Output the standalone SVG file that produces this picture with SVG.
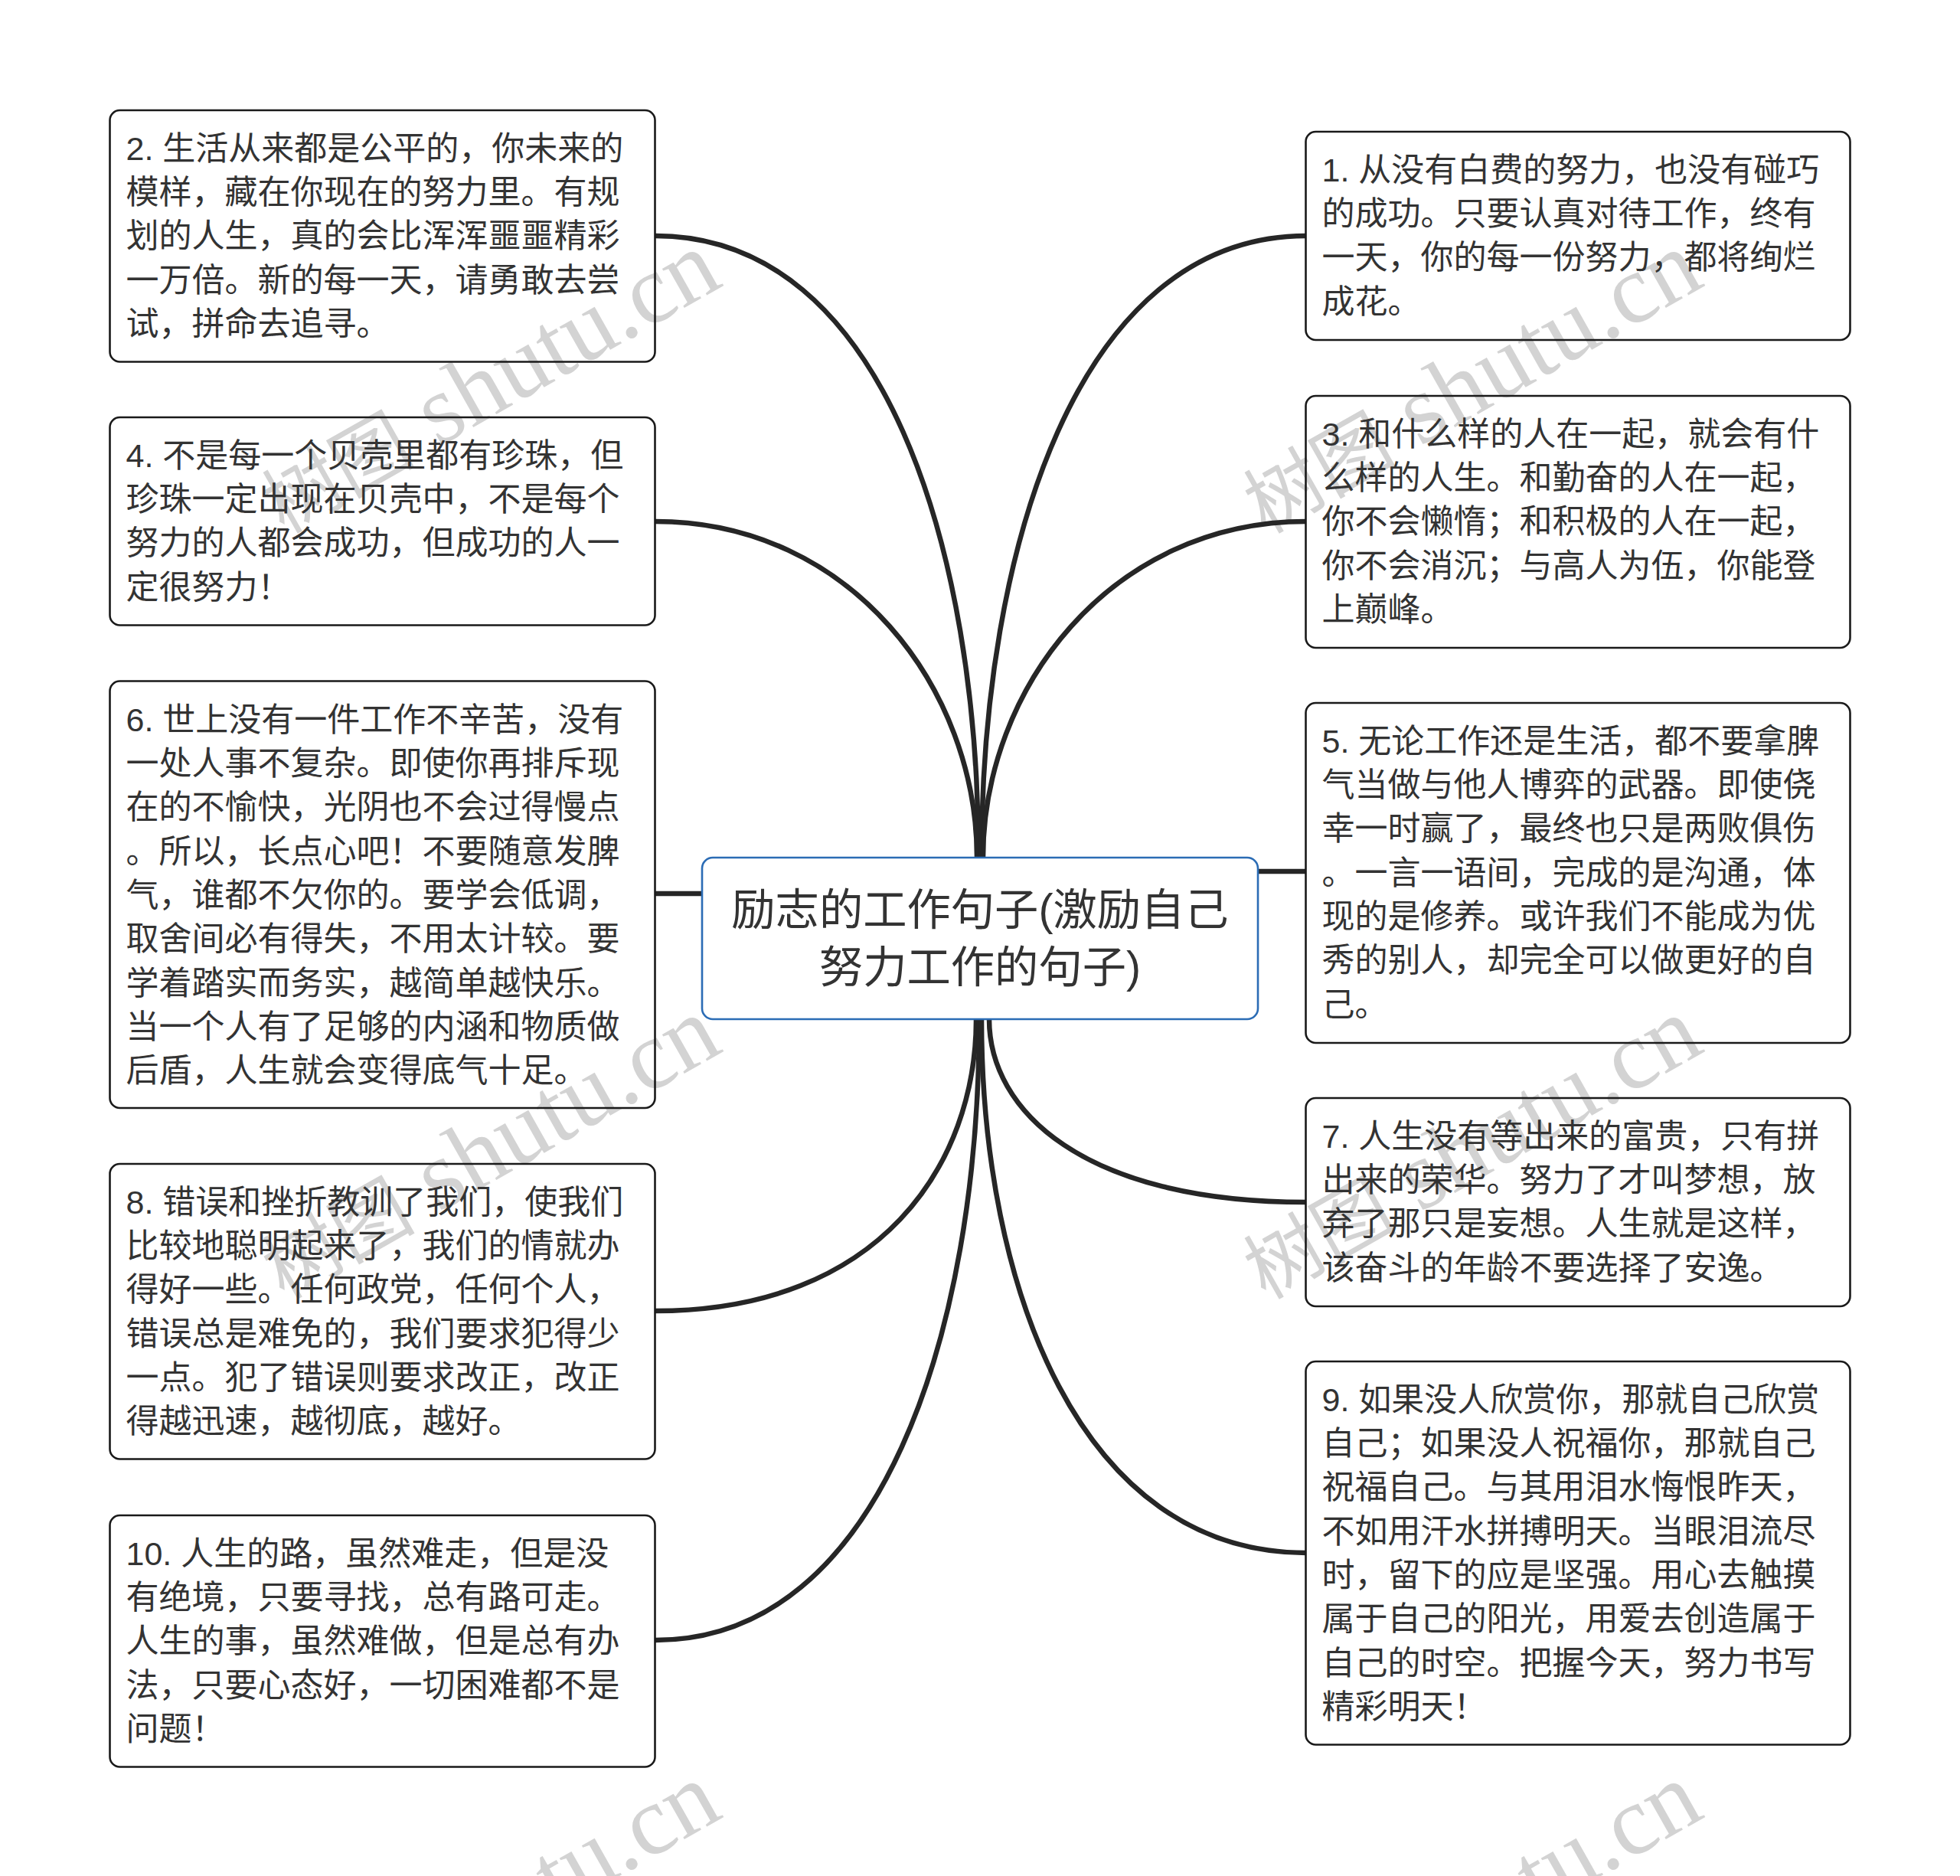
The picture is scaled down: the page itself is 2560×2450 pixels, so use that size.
<svg xmlns="http://www.w3.org/2000/svg" width="2560" height="2450" viewBox="0 0 2560 2450">
<style>
text{font-family:"Liberation Sans","Noto Sans CJK SC",sans-serif;fill:#333}
.t text{font-size:43px}
.wm{font-family:"Liberation Serif","Noto Sans CJK SC",serif;font-size:128px;fill:#d3d3d3;text-anchor:end}
.wm tspan{font-family:"Noto Sans CJK SC",serif;font-size:100px}
.box{fill:none;stroke:#1a1a1a;stroke-width:2.6}
.root{fill:none;stroke:#2b6cb5;stroke-width:2.6}
.c path{fill:none;stroke:#262626;stroke-width:6.5}
</style>
<rect width="2560" height="2450" fill="#fff"/>
<g id="watermarks">
<text class="wm" transform="translate(947 372) rotate(-29.500)"><tspan>树图</tspan> shutu.cn</text>
<text class="wm" transform="translate(2229 372) rotate(-29.500)"><tspan>树图</tspan> shutu.cn</text>
<text class="wm" transform="translate(947 1372) rotate(-29.500)"><tspan>树图</tspan> shutu.cn</text>
<text class="wm" transform="translate(2229 1372) rotate(-29.500)"><tspan>树图</tspan> shutu.cn</text>
<text class="wm" transform="translate(947 2372) rotate(-29.500)"><tspan>树图</tspan> shutu.cn</text>
<text class="wm" transform="translate(2229 2372) rotate(-29.500)"><tspan>树图</tspan> shutu.cn</text>
</g>
<g id="connectors" class="c">
<path d="M856 308C1156 308 1278 720 1278 1120"/>
<path d="M856 681C1112 681 1276 900 1276 1120"/>
<path d="M856 1167H917"/>
<path d="M856 1712C1150 1712 1275 1520 1275 1331"/>
<path d="M856 2142C1150 2142 1279 1740 1279 1331"/>
<path d="M1706 308C1406 308 1282 720 1282 1120"/>
<path d="M1706 681C1450 681 1284 900 1284 1120"/>
<path d="M1643 1138H1706"/>
<path d="M1706 1570C1414 1570 1292 1450 1292 1331"/>
<path d="M1706 2028C1410 2028 1282 1680 1282 1331"/>
</g>
<g id="root"><rect class="root" x="917" y="1120" width="726" height="211" rx="14"/>
<text x="1280" y="1208" font-size="57.300" text-anchor="middle">励志的工作句子(激励自己</text>
<text x="1280" y="1283" font-size="57.300" text-anchor="middle">努力工作的句子)</text></g>
<g id="n2" class="t"><rect class="box" x="143.500" y="144" width="712" height="328.500" rx="13"/>
<text x="164.500" y="208.700">2. 生活从来都是公平的，你未来的</text>
<text x="164.500" y="266">模样，藏在你现在的努力里。有规</text>
<text x="164.500" y="323.300">划的人生，真的会比浑浑噩噩精彩</text>
<text x="164.500" y="380.600">一万倍。新的每一天，请勇敢去尝</text>
<text x="164.500" y="437.900">试，拼命去追寻。</text></g>
<g id="n4" class="t"><rect class="box" x="143.500" y="545" width="712" height="271.500" rx="13"/>
<text x="164.500" y="609.700">4. 不是每一个贝壳里都有珍珠，但</text>
<text x="164.500" y="667">珍珠一定出现在贝壳中，不是每个</text>
<text x="164.500" y="724.300">努力的人都会成功，但成功的人一</text>
<text x="164.500" y="781.600">定很努力！</text></g>
<g id="n6" class="t"><rect class="box" x="143.500" y="889.500" width="712" height="557.500" rx="13"/>
<text x="164.500" y="954.700">6. 世上没有一件工作不辛苦，没有</text>
<text x="164.500" y="1012">一处人事不复杂。即使你再排斥现</text>
<text x="164.500" y="1069.300">在的不愉快，光阴也不会过得慢点</text>
<text x="164.500" y="1126.600">。所以，长点心吧！不要随意发脾</text>
<text x="164.500" y="1183.900">气，谁都不欠你的。要学会低调，</text>
<text x="164.500" y="1241.200">取舍间必有得失，不用太计较。要</text>
<text x="164.500" y="1298.500">学着踏实而务实，越简单越快乐。</text>
<text x="164.500" y="1355.800">当一个人有了足够的内涵和物质做</text>
<text x="164.500" y="1413.100">后盾，人生就会变得底气十足。</text></g>
<g id="n8" class="t"><rect class="box" x="143.500" y="1520" width="712" height="385.500" rx="13"/>
<text x="164.500" y="1584.700">8. 错误和挫折教训了我们，使我们</text>
<text x="164.500" y="1642">比较地聪明起来了，我们的情就办</text>
<text x="164.500" y="1699.300">得好一些。任何政党，任何个人，</text>
<text x="164.500" y="1756.600">错误总是难免的，我们要求犯得少</text>
<text x="164.500" y="1813.900">一点。犯了错误则要求改正，改正</text>
<text x="164.500" y="1871.200">得越迅速，越彻底，越好。</text></g>
<g id="n10" class="t"><rect class="box" x="143.500" y="1979" width="712" height="328.500" rx="13"/>
<text x="164.500" y="2043.700">10. 人生的路，虽然难走，但是没</text>
<text x="164.500" y="2101">有绝境，只要寻找，总有路可走。</text>
<text x="164.500" y="2158.300">人生的事，虽然难做，但是总有办</text>
<text x="164.500" y="2215.600">法，只要心态好，一切困难都不是</text>
<text x="164.500" y="2272.900">问题！</text></g>
<g id="n1" class="t"><rect class="box" x="1705.500" y="172" width="711" height="272" rx="13"/>
<text x="1726.500" y="236.700">1. 从没有白费的努力，也没有碰巧</text>
<text x="1726.500" y="294">的成功。只要认真对待工作，终有</text>
<text x="1726.500" y="351.300">一天，你的每一份努力，都将绚烂</text>
<text x="1726.500" y="408.600">成花。</text></g>
<g id="n3" class="t"><rect class="box" x="1705.500" y="517" width="711" height="329" rx="13"/>
<text x="1726.500" y="581.700">3. 和什么样的人在一起，就会有什</text>
<text x="1726.500" y="639">么样的人生。和勤奋的人在一起，</text>
<text x="1726.500" y="696.300">你不会懒惰；和积极的人在一起，</text>
<text x="1726.500" y="753.600">你不会消沉；与高人为伍，你能登</text>
<text x="1726.500" y="810.900">上巅峰。</text></g>
<g id="n5" class="t"><rect class="box" x="1705.500" y="918" width="711" height="444" rx="13"/>
<text x="1726.500" y="982.700">5. 无论工作还是生活，都不要拿脾</text>
<text x="1726.500" y="1040">气当做与他人博弈的武器。即使侥</text>
<text x="1726.500" y="1097.300">幸一时赢了，最终也只是两败俱伤</text>
<text x="1726.500" y="1154.600">。一言一语间，完成的是沟通，体</text>
<text x="1726.500" y="1211.900">现的是修养。或许我们不能成为优</text>
<text x="1726.500" y="1269.200">秀的别人，却完全可以做更好的自</text>
<text x="1726.500" y="1326.500">己。</text></g>
<g id="n7" class="t"><rect class="box" x="1705.500" y="1434" width="711" height="272" rx="13"/>
<text x="1726.500" y="1498.700">7. 人生没有等出来的富贵，只有拼</text>
<text x="1726.500" y="1556">出来的荣华。努力了才叫梦想，放</text>
<text x="1726.500" y="1613.300">弃了那只是妄想。人生就是这样，</text>
<text x="1726.500" y="1670.600">该奋斗的年龄不要选择了安逸。</text></g>
<g id="n9" class="t"><rect class="box" x="1705.500" y="1778" width="711" height="500.500" rx="13"/>
<text x="1726.500" y="1842.700">9. 如果没人欣赏你，那就自己欣赏</text>
<text x="1726.500" y="1900">自己；如果没人祝福你，那就自己</text>
<text x="1726.500" y="1957.300">祝福自己。与其用泪水悔恨昨天，</text>
<text x="1726.500" y="2014.600">不如用汗水拼搏明天。当眼泪流尽</text>
<text x="1726.500" y="2071.900">时，留下的应是坚强。用心去触摸</text>
<text x="1726.500" y="2129.200">属于自己的阳光，用爱去创造属于</text>
<text x="1726.500" y="2186.500">自己的时空。把握今天，努力书写</text>
<text x="1726.500" y="2243.800">精彩明天！</text></g>
</svg>
